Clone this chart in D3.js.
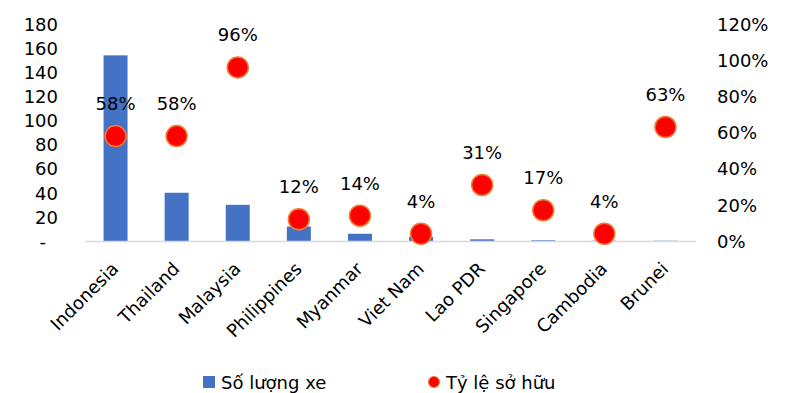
<!DOCTYPE html>
<html>
<head>
<meta charset="utf-8">
<script src="https://cdn.jsdelivr.net/npm/d3@7"></script>
<style>
  html, body { margin: 0; padding: 0; background: #fff; }
  svg text { font-family: "DejaVu Sans", Verdana, sans-serif; fill: #000; }
</style>
</head>
<body>
<svg id="chart" width="795" height="393"></svg>
<script>
// Countries and the two series drawn for each
const countries = ["Indonesia", "Thailand", "Malaysia", "Philippines", "Myanmar",
                   "Viet Nam", "Lao PDR", "Singapore", "Cambodia", "Brunei"];
const vehicles = [154, 40, 30, 12, 6, 3.5, 1.4, 0.6, 0.3, 0.2];          // Số lượng xe
const ownership = [0.58, 0.58, 0.96, 0.12, 0.14, 0.04, 0.31, 0.17, 0.04, 0.63]; // Tỷ lệ sở hữu
const leftTicks = [0, 20, 40, 60, 80, 100, 120, 140, 160, 180];
const rightTicks = [0, 0.2, 0.4, 0.6, 0.8, 1.0, 1.2];

const svg = d3.select("#chart");
const plot = { left: 85, right: 696, top: 24, bottom: 241 };

const xc = d3.scalePoint().domain(countries).range([plot.left, plot.right]).padding(0.5);
const yL = d3.scaleLinear().domain([0, 180]).range([plot.bottom, plot.top]);
const yR = d3.scaleLinear().domain([0, 1.2]).range([plot.bottom, plot.top]);
const barW = 24;

// Bars
svg.append("g").selectAll("rect").data(countries).join("rect")
  .attr("x", d => xc(d) - barW / 2)
  .attr("width", barW)
  .attr("y", (d, i) => yL(vehicles[i]))
  .attr("height", (d, i) => plot.bottom - yL(vehicles[i]))
  .attr("fill", "#4472C4");

// Baseline
svg.append("line")
  .attr("x1", plot.left).attr("x2", plot.right)
  .attr("y1", plot.bottom + 0.5).attr("y2", plot.bottom + 0.5)
  .attr("stroke", "#D9D9D9").attr("stroke-width", 1.5);

// Left axis (vehicle count); zero shown as a dash
const axL = d3.axisLeft(yL).tickValues(leftTicks).tickSize(0).tickPadding(0)
  .tickFormat(d => d === 0 ? "-" : d);
const gL = svg.append("g").attr("transform", `translate(58,0)`).call(axL);
gL.select(".domain").remove();
gL.selectAll("text").attr("font-size", 18).attr("dy", "0.35em").style("font-family", "DejaVu Sans");
gL.selectAll(".tick").filter(d => d === 0).select("text").attr("x", -12);

// Right axis (ownership share)
const axR = d3.axisRight(yR).tickValues(rightTicks).tickSize(0).tickPadding(0)
  .tickFormat(d3.format(".0%"));
const gR = svg.append("g").attr("transform", `translate(717,0)`).call(axR);
gR.select(".domain").remove();
gR.selectAll("text").attr("font-size", 18).attr("dy", "0.35em").style("font-family", "DejaVu Sans");

// Category labels
svg.append("g").selectAll("text").data(countries).join("text")
  .attr("transform", d => `translate(${xc(d) + 4},${plot.bottom + 29}) rotate(-45)`)
  .attr("text-anchor", "end")
  .attr("font-size", 18)
  .text(d => d);

// Ownership dots
svg.append("g").selectAll("circle").data(countries).join("circle")
  .attr("cx", d => xc(d))
  .attr("cy", (d, i) => yR(ownership[i]))
  .attr("r", 10.5)
  .attr("fill", "#FF0000")
  .attr("stroke", "#ED7D31")
  .attr("stroke-width", 1.5);

// Dot value labels
svg.append("g").selectAll("text").data(countries).join("text")
  .attr("x", d => xc(d))
  .attr("y", (d, i) => yR(ownership[i]) - 26)
  .attr("text-anchor", "middle")
  .attr("font-size", 18)
  .text((d, i) => d3.format(".0%")(ownership[i]));

// Legend
const lg = svg.append("g");
lg.append("rect").attr("x", 203).attr("y", 376).attr("width", 12).attr("height", 12).attr("fill", "#4472C4");
lg.append("text").attr("x", 221).attr("y", 389).attr("font-size", 18).text("Số lượng xe");
lg.append("circle").attr("cx", 434).attr("cy", 382).attr("r", 5.5)
  .attr("fill", "#FF0000").attr("stroke", "#ED7D31").attr("stroke-width", 1.2);
lg.append("text").attr("x", 446).attr("y", 389).attr("font-size", 18).text("Tỷ lệ sở hữu");
</script>
</body>
</html>
